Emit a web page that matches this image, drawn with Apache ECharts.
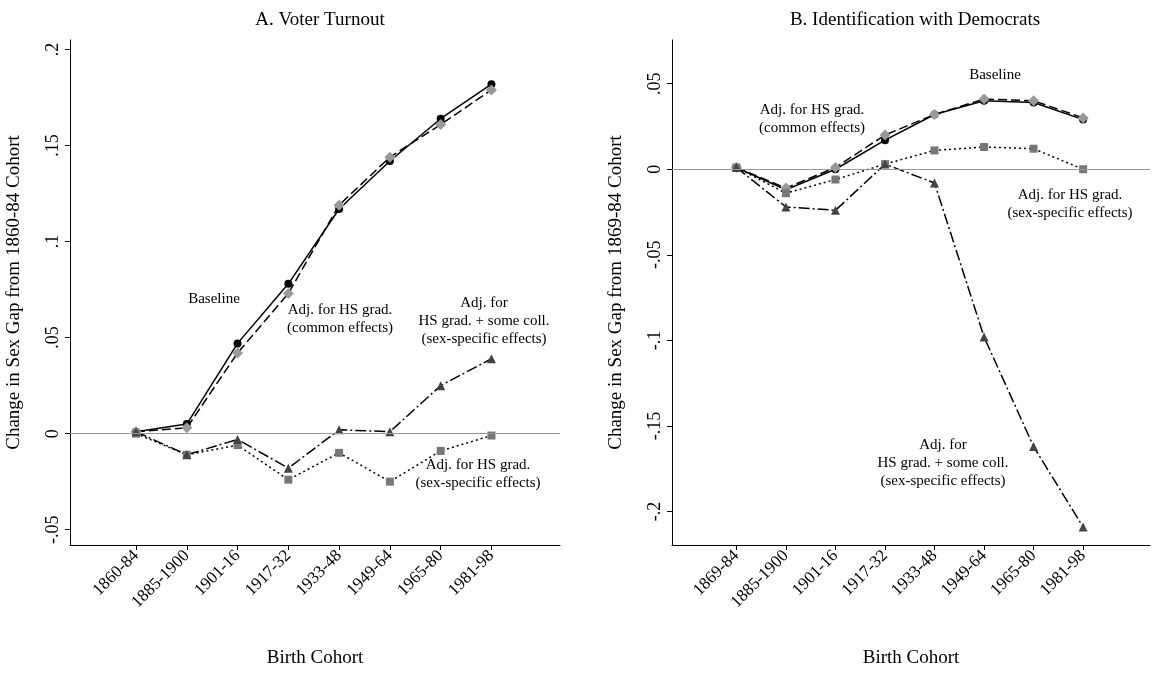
<!DOCTYPE html>
<html><head><meta charset="utf-8">
<script src="https://cdn.jsdelivr.net/npm/echarts@6/dist/echarts.min.js"></script>
<style>html,body{margin:0;background:#fff}#c{width:1159px;height:675px}</style>
</head><body><div id="c"></div>
<script>
const catsA = ['1860-84','1885-1900','1901-16','1917-32','1933-48','1949-64','1965-80','1981-98'];
const catsB = ['1869-84','1885-1900','1901-16','1917-32','1933-48','1949-64','1965-80','1981-98'];
const baseA   = [0.001, 0.005, 0.047, 0.078, 0.117, 0.142, 0.164, 0.182];
const commonA = [0.001, 0.003, 0.042, 0.073, 0.119, 0.144, 0.161, 0.179];
const sexA    = [0.000, -0.011, -0.006, -0.024, -0.010, -0.025, -0.009, -0.001];
const collA   = [0.001, -0.011, -0.003, -0.018, 0.002, 0.001, 0.025, 0.039];
const baseB   = [0.001, -0.012, 0.000, 0.017, 0.032, 0.040, 0.039, 0.029];
const commonB = [0.001, -0.011, 0.001, 0.020, 0.032, 0.041, 0.040, 0.030];
const sexB    = [0.001, -0.014, -0.006, 0.003, 0.011, 0.013, 0.012, 0.000];
const collB   = [0.001, -0.022, -0.024, 0.003, -0.008, -0.098, -0.162, -0.209];
const ticksA = [-0.05, 0, 0.05, 0.1, 0.15, 0.2];
const ticksB = [-0.2, -0.15, -0.1, -0.05, 0, 0.05];

const F = '"Liberation Serif","DejaVu Serif",serif';
const fmt = v => { let r = Math.round(v*100)/100; if (r===0) return '0'; let s = String(r); return s.replace('0.', '.'); };
function pts(a){ return a.map((v,i)=>[i,v]); }
function xAx(idx, cats){
  return {gridIndex:idx, type:'value', min:-1.3, max:8.35,
    axisLine:{show:true,onZero:false,lineStyle:{color:'#000'}},
    axisTick:{customValues:[0,1,2,3,4,5,6,7],length:5,lineStyle:{color:'#000'}},
    axisLabel:{customValues:[0,1,2,3,4,5,6,7],formatter:v=>cats[Math.round(v)],rotate:45,fontFamily:F,fontSize:17,color:'#000',margin:8},
    splitLine:{show:false},
    name:'Birth Cohort',nameLocation:'middle',nameGap:104,nameTextStyle:{fontFamily:F,fontSize:19,color:'#000'}};
}
function yAx(idx, min, max, ticks, name){
  return {gridIndex:idx, type:'value', min:min, max:max,
    axisLine:{show:true,onZero:false,lineStyle:{color:'#000'}},
    axisTick:{customValues:ticks,length:5,lineStyle:{color:'#000'}},
    axisLabel:{customValues:ticks,formatter:fmt,rotate:90,fontFamily:F,fontSize:18,color:'#000',margin:8},
    splitLine:{show:false},
    name:name,nameLocation:'middle',nameGap:46,nameTextStyle:{fontFamily:F,fontSize:19,color:'#000'}};
}
function ser(idx, data, kind, zero){
  const st = {
    base:{sym:'circle',size:8,c:'#000',dash:'solid',mc:'#000'},
    common:{sym:'diamond',size:11,c:'#000',dash:[9,4],mc:'#999'},
    sex:{sym:'rect',size:8,c:'#000',dash:[2,3],mc:'#777'},
    coll:{sym:'triangle',size:9,c:'#000',dash:[11,3,2,3],mc:'#444'}
  }[kind];
  const s = {type:'line',xAxisIndex:idx,yAxisIndex:idx,data:pts(data),symbol:st.sym,symbolSize:st.size,
    lineStyle:{color:st.c,width:1.5,type:st.dash},itemStyle:{color:st.mc},clip:false,z:kind==='base'?3:4};
  if (zero) s.markLine = {silent:true,symbol:'none',label:{show:false},lineStyle:{color:'#999',type:'solid',width:1},data:[{yAxis:0}]};
  return s;
}
function txt(x,y,t){ return {type:'text',x:x,y:y,style:{text:t,font:'15px '+F,fill:'#000',align:'center',verticalAlign:'top',lineHeight:18}}; }
const chart = echarts.init(document.getElementById('c'));
chart.setOption({
  animation:false,
  title:[{text:'A. Voter Turnout',left:315,top:6,textAlign:'center',textStyle:{fontFamily:F,fontSize:19,fontWeight:'normal',color:'#000'}},
         {text:'B. Identification with Democrats',left:910,top:6,textAlign:'center',textStyle:{fontFamily:F,fontSize:19,fontWeight:'normal',color:'#000'}}],
  grid:[{left:70,right:599,top:40,bottom:130},{left:672,right:9,top:40,bottom:130}],
  xAxis:[xAx(0,catsA),xAx(1,catsB)],
  yAxis:[yAx(0,-0.058,0.205,ticksA,'Change in Sex Gap from 1860-84 Cohort'),
         yAx(1,-0.2195,0.0755,ticksB,'Change in Sex Gap from 1869-84 Cohort')],
  series:[ser(0,baseA,'base',true),ser(0,commonA,'common'),ser(0,sexA,'sex'),ser(0,collA,'coll'),
          ser(1,baseB,'base',true),ser(1,commonB,'common'),ser(1,sexB,'sex'),ser(1,collB,'coll')],
  graphic:[
    txt(214,290,'Baseline'),
    txt(340,301,'Adj. for HS grad.\n(common effects)'),
    txt(484,294,'Adj. for\nHS grad. + some coll.\n(sex-specific effects)'),
    txt(478,456,'Adj. for HS grad.\n(sex-specific effects)'),
    txt(995,66,'Baseline'),
    txt(812,101,'Adj. for HS grad.\n(common effects)'),
    txt(1070,186,'Adj. for HS grad.\n(sex-specific effects)'),
    txt(943,436,'Adj. for\nHS grad. + some coll.\n(sex-specific effects)')
  ]
});
</script></body></html>
